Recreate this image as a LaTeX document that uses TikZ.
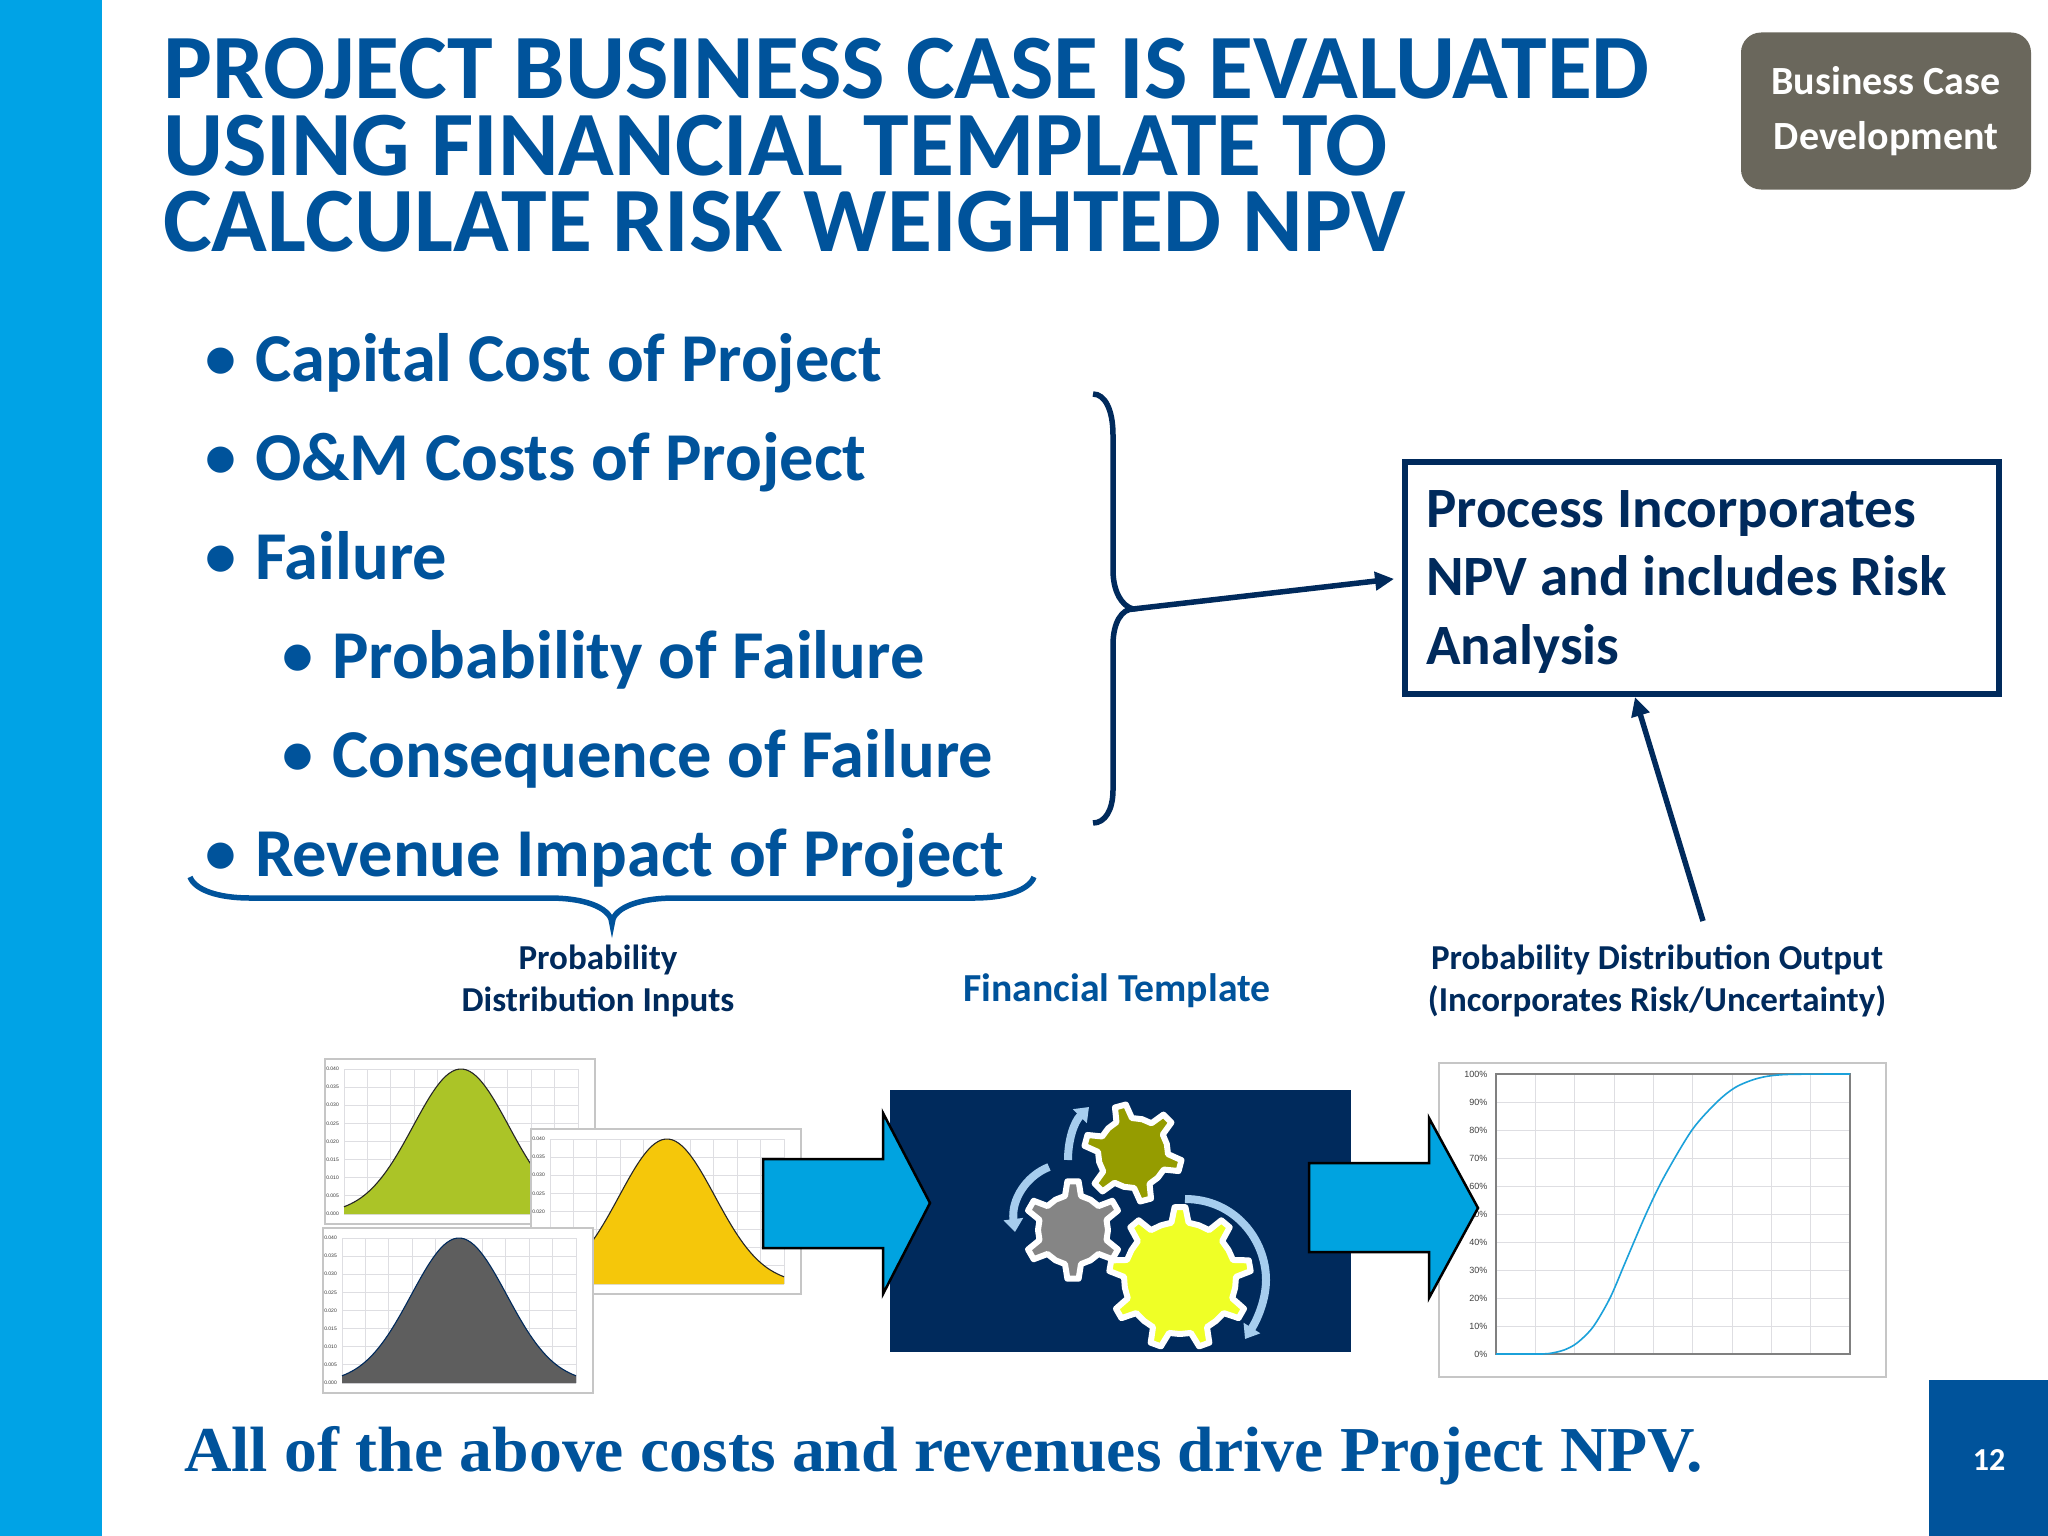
\documentclass[tikz,border=0pt]{standalone}
\usepackage{fontspec}
\usetikzlibrary{arrows.meta}
\setmainfont{Carlito}
\newfontfamily\serifbold[FakeStretch=1.027]{Liberation Serif}
\newfontfamily\chartfont{Liberation Sans}
\definecolor{barblue}{HTML}{00A3E6}
\definecolor{titleblue}{HTML}{00539B}
\definecolor{navy}{HTML}{002A5C}
\definecolor{tagrey}{HTML}{6A675C}
\definecolor{arrowblue}{HTML}{00A3E0}
\definecolor{arclight}{HTML}{A6CDEE}
\definecolor{gridgrey}{HTML}{DEDEE2}
\definecolor{framegrey}{HTML}{C6C6C6}
\definecolor{bellgreen}{HTML}{ABC427}
\definecolor{bellyellow}{HTML}{F5C70A}
\definecolor{bellgrey}{HTML}{5E5E5E}
\definecolor{gearolive}{HTML}{959C00}
\definecolor{geargrey}{HTML}{858585}
\definecolor{gearyellow}{HTML}{EFFF26}
\definecolor{chartline}{HTML}{1BA1DA}
\tikzset{
  x=1pt,y=-1pt,
  title/.style={anchor=north west,inner sep=0,align=left,text=titleblue,font=\fontsize{92}{76.5}\selectfont\bfseries},
  item/.style={anchor=base west,inner sep=0,text=titleblue,font=\fontsize{68.5}{70}\selectfont\bfseries},
  dot/.style={anchor=base,inner sep=0,text=titleblue,font=\fontsize{62}{70}\selectfont\bfseries},
  caption/.style={inner sep=0,align=center,text=navy,font=\fontsize{35}{42}\selectfont\bfseries},
  bigarrow/.style={fill=arrowblue,draw=black,line width=2.5pt,miter limit=10},
  framebox/.style={fill=white,draw=framegrey,line width=1.3pt},
  grid line/.style={draw=gridgrey,line width=1pt},
  rot arrow/.style={draw=arclight,line width=8pt,-{Triangle[length=13pt,width=19pt]}},
  navyline/.style={draw=navy,line width=5.5pt},
  gearshape/.style={draw=white,line width=6pt,line join=round},
  ticksmall/.style={inner sep=0,anchor=east,text=black!80,font=\chartfont\fontsize{5}{5}\selectfont},
  ticklarge/.style={inner sep=0,anchor=east,text=black!75,font=\chartfont\fontsize{9}{9}\selectfont},
}
% frame left, frame top, fill, line colour
\newcommand{\bellchart}[4]{%
  \begin{scope}[shift={(#1,#2)}]
    \draw[framebox] (0,0) rectangle (270,165);
    \foreach \k in {0,...,10} \draw[grid line] (19+\k*23.4,10) -- (19+\k*23.4,155);
    \foreach \k in {0,...,8} \draw[grid line] (19,10+\k*18.125) -- (253,10+\k*18.125);
    \foreach \v [count=\k from 0] in {0.000,0.005,0.010,0.015,0.020,0.025,0.030,0.035,0.040}
      \node[ticksmall] (t\k) at (14,155-\k*18.125) {\v};
    \fill[#3] (19,155) -- plot[domain=19:253,samples=70,smooth] (\x,{155-145*exp(-0.5*((\x-136)/47.8)^2)}) -- (253,155) -- cycle;
    \draw[#4,line width=1.1pt] plot[domain=19:253,samples=70,smooth] (\x,{155-145*exp(-0.5*((\x-136)/47.8)^2)});
  \end{scope}}
% centre x, y, teeth, first angle, body r, tip r, fill
\newcommand{\gearwheel}[7]{%
  \pgfmathsetmacro{\gst}{360/#3}
  \pgfmathsetmacro{\gbw}{\gst*0.22}
  \pgfmathsetmacro{\gtw}{\gst*0.11}
  \gdef\gearpts{}
  \foreach \k in {1,...,#3}{
    \pgfmathsetmacro{\angA}{#4+\k*\gst-\gbw}
    \pgfmathsetmacro{\angB}{#4+\k*\gst-\gtw}
    \pgfmathsetmacro{\angC}{#4+\k*\gst+\gtw}
    \pgfmathsetmacro{\angD}{#4+\k*\gst+\gbw}
    \pgfmathsetmacro{\angE}{#4+\k*\gst+0.5*\gst}
    \xdef\gearpts{\gearpts (\angA:#5) (\angB:#6) (\angC:#6) (\angD:#5) (\angE:#5)}
  }
  \begin{scope}[shift={(#1,#2)}]
    \draw[gearshape,fill=#7] plot coordinates {\gearpts} -- cycle;
  \end{scope}}
\begin{document}
\begin{tikzpicture}
\useasboundingbox (0,0) rectangle (2048,1536);
\fill[white] (0,0) rectangle (2048,1536);
\fill[barblue] (0,0) rectangle (102,1536);
\fill[titleblue] (1929,1380) rectangle (2048,1536);
\node[inner sep=0,text=white,font=\fontsize{32}{32}\selectfont\bfseries] (pagenum) at (1989,1460) {12};

\node[title] (titletext) at (163,38) {PROJECT BUSINESS CASE IS EVALUATED\\USING FINANCIAL TEMPLATE TO\\CALCULATE RISK WEIGHTED NPV};

\node[fill=tagrey,rounded corners=20pt,minimum width=290pt,minimum height=157pt,inner sep=0,align=center,text=white,font=\fontsize{40}{37}\selectfont\bfseries] (tag) at (1886,111) {Business Case\\[18pt]Development};

% bullets
\node[dot] (b1) at (221,378) {•};
\node[item] (i1) at (255,381.5) {Capital Cost of Project};
\node[dot] (b2) at (221,477) {•};
\node[item] (i2) at (255,480.5) {O\&M Costs of Project};
\node[dot] (b3) at (221,576) {•};
\node[item] (i3) at (255,579.5) {Failure};
\node[dot] (b4) at (298,675) {•};
\node[item] (i4) at (332,678.5) {Probability of Failure};
\node[dot] (b5) at (298,774) {•};
\node[item] (i5) at (332,777.5) {Consequence of Failure};
\node[dot] (b6) at (221,873) {•};
\node[item] (i6) at (255,876.5) {Revenue Impact of Project};

% process box
\node[draw=navy,line width=6pt,minimum width=594pt,minimum height=232pt,inner sep=0,fill=white] (procbox) at (1702,578) {};
\node[anchor=north west,inner sep=0,align=left,text=navy,font=\fontsize{57}{68.5}\selectfont\bfseries] (proctext) at (1426,490) {Process Incorporates\\NPV and includes Risk\\Analysis};

% right brace
\coordinate (bracetip) at (1133,609);
\draw[navyline] (1093,394) .. controls (1105,394) and (1113,410) .. (1113,435) -- (1113,570) .. controls (1113,592) and (1122,606) .. (bracetip) .. controls (1122,609) and (1113,622) .. (1113,645) -- (1113,790) .. controls (1113,810) and (1105,823) .. (1093,823);
\draw[navyline,-{Triangle[length=19pt,width=18pt]},shorten >=8pt] (bracetip) -- (procbox.west);

% lower brace
\coordinate (lowertip) at (612,924);
\draw[draw=titleblue,line width=5.5pt] (190,877) .. controls (195,890) and (218,898) .. (250,898) -- (549,898) .. controls (590,898) and (612,910) .. (lowertip) .. controls (612,910) and (634,898) .. (675,898) -- (974,898) .. controls (1006,898) and (1029,890) .. (1034,877);

% output arrow
\coordinate (outfree) at (1703,921);
\coordinate (boxentry) at (1635,697);
\draw[navyline,-{Triangle[length=19pt,width=18pt]}] (outfree) -- (boxentry);

% captions
\node[caption] (capin) at (598,980.5) {Probability\\Distribution Inputs};
\node[caption,text=titleblue,font=\fontsize{39.7}{42}\selectfont\bfseries] (captmpl) at (1117,991) {Financial Template};
\node[caption] (capout) at (1657,980.5) {Probability Distribution Output\\(Incorporates Risk/Uncertainty)};

% input charts
\bellchart{325}{1059}{bellgreen}{black!85}
\bellchart{531}{1129}{bellyellow}{black!85}
\bellchart{323}{1228}{bellgrey}{navy}

% template panel
\fill[navy] (890,1090) rectangle (1351,1352);
\begin{scope}
  \clip (890,1090) rectangle (1351,1352);
  \gearwheel{1133}{1153}{6}{-45}{35}{49}{gearolive}
  \gearwheel{1073}{1230}{6}{-30}{35}{49}{geargrey}
  \gearwheel{1180}{1278}{9}{-130}{56}{71}{gearyellow}
\end{scope}
\draw[rot arrow] (1068,1160) .. controls (1068,1140) and (1074,1122) .. (1089,1107);
\draw[rot arrow] (1049,1167) .. controls (1026,1176) and (1011,1200) .. (1015,1232);
\draw[rot arrow] (1185,1199) .. controls (1235,1199) and (1266,1240) .. (1266,1280) .. controls (1266,1300) and (1257,1320) .. (1245,1339);

% output chart
\draw[framebox] (1439,1063) rectangle (1886,1377);
\foreach \k in {1,...,8} \draw[grid line] (1496+\k*39.33,1074) -- (1496+\k*39.33,1354);
\foreach \k in {1,...,9} \draw[grid line] (1496,1074+\k*28) -- (1850,1074+\k*28);
\draw[draw=black!50,line width=1.3pt] (1496,1074) rectangle (1850,1354);
\foreach \v [count=\k from 0] in {0,10,...,100}
  \node[ticklarge] (p\k) at (1487.5,1354-\k*28) {\v\%};
\draw[chartline,line width=1.6pt] plot[smooth,tension=0.5] coordinates {(1496,1354) (1535,1354) (1549,1353.5) (1564,1350) (1577,1343) (1593,1327) (1610,1298) (1625,1263) (1646,1214) (1664,1177) (1692,1130) (1717,1102) (1736,1087) (1759,1078) (1786,1074.5) (1850,1074)};

% block arrows
\draw[bigarrow] (763,1159) -- (883,1159) -- (883,1113) -- (930,1203) -- (883,1294) -- (883,1248) -- (763,1248) -- cycle;
\draw[bigarrow] (1309,1163) -- (1429,1163) -- (1429,1118) -- (1478,1208) -- (1429,1298) -- (1429,1252) -- (1309,1252) -- cycle;

\node[anchor=base west,inner sep=0,text=titleblue,font=\serifbold\fontsize{64}{64}\selectfont\bfseries] (closing) at (184,1471) {All of the above costs and revenues drive Project NPV.};
\end{tikzpicture}
\end{document}
